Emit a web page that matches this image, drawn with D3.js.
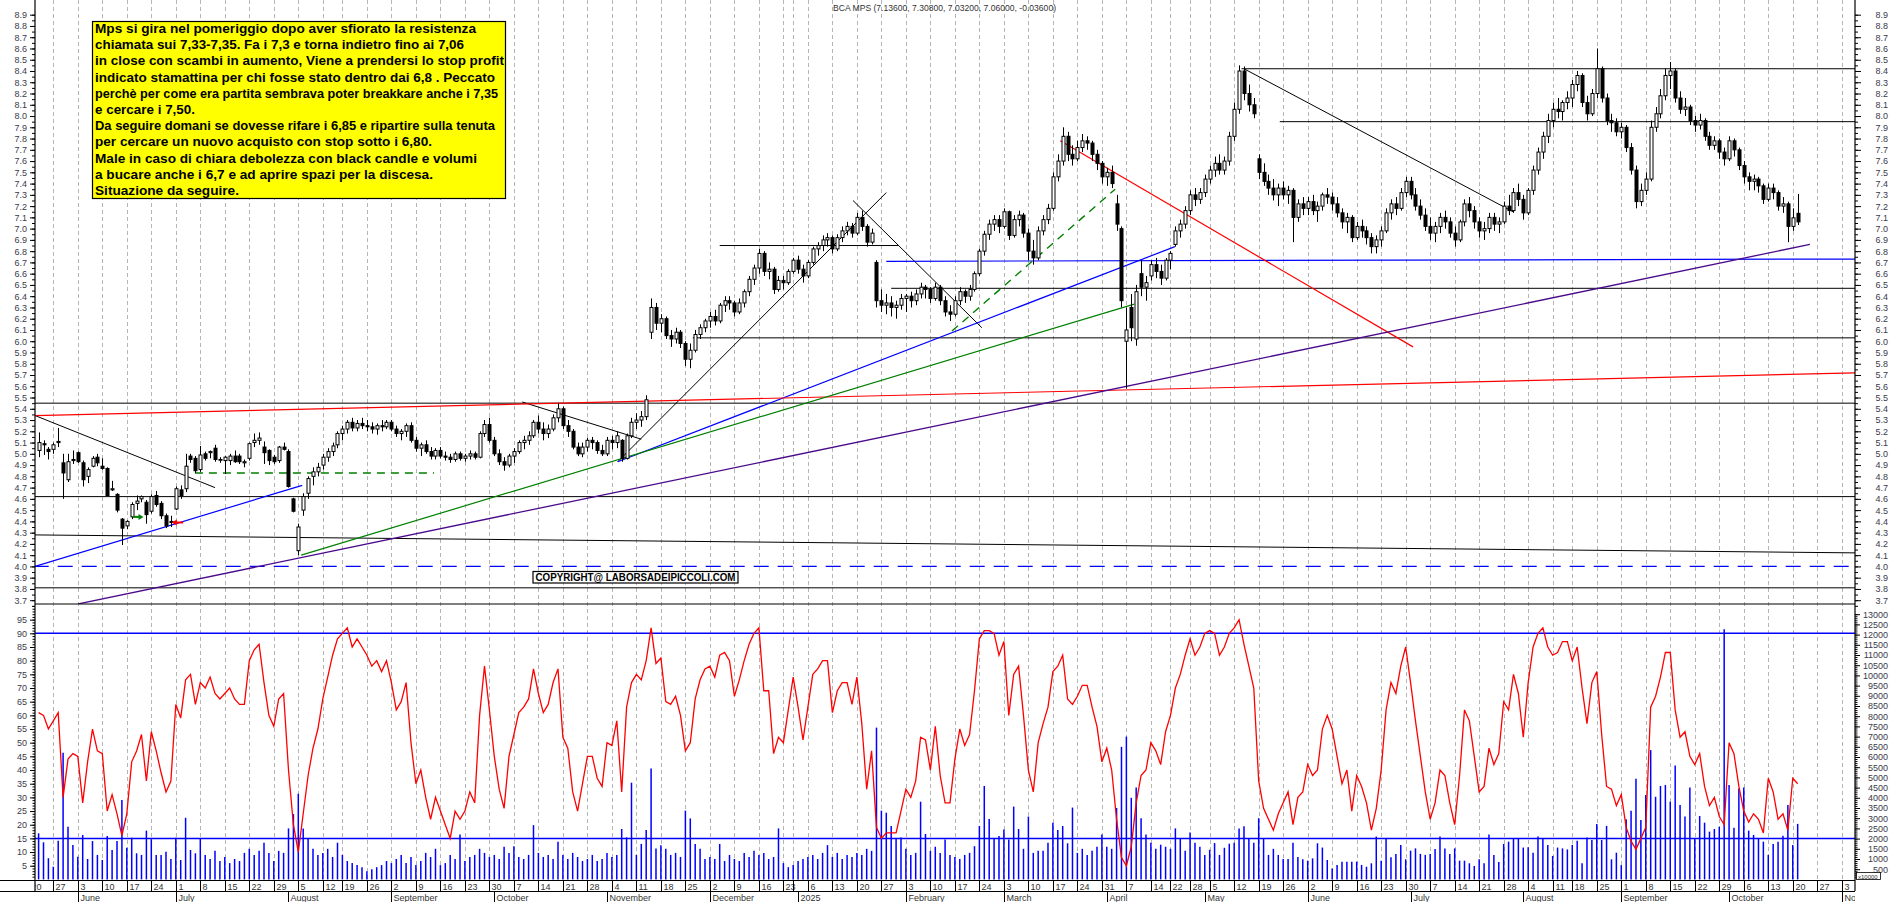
<!DOCTYPE html>
<html><head><meta charset="utf-8">
<script src="https://cdn.jsdelivr.net/npm/d3@7"></script>
<style>
html,body{margin:0;padding:0;background:#fff;}
svg{display:block;}
text{font-family:"Liberation Sans",Arial,sans-serif;}
</style></head><body>
<svg id="c" width="1890" height="902"></svg>
<script>
// ---------- categories ----------
const holidays = ["2024-08-15","2024-12-24","2024-12-25","2024-12-26","2024-12-31","2025-01-01","2025-04-18","2025-04-21","2025-05-01","2025-08-15"];
const firstDataDay = "2024-05-22";
const monthNames = ["2025","February","March","April","May","June","July","August","September","October","November","December"];
const titleName = "BCA MPS";

// ---------- series: [open, high, low, close, volume(x10000), stochastic] ----------
const may24 = [[5.03,5.19,4.97,5.10,2260,61],[5.09,5.12,4.99,5.08,1820,60],[5.04,5.06,4.95,5.02,1040,55],[5.04,5.10,5.00,5.08,620,58],[5.10,5.23,5.06,5.11,1900,61],[4.92,5.00,4.60,4.83,6210,30],[4.77,5.00,4.75,4.93,2580,44],[4.95,5.03,4.91,4.94,1690,46]];
const jun24 = [[5.01,5.02,4.92,4.93,1110,45],[4.92,4.94,4.71,4.77,2180,28],[4.80,4.88,4.74,4.86,1000,43],[4.89,4.98,4.88,4.96,1880,55],[4.97,5.00,4.89,4.92,1200,47],[4.89,4.96,4.86,4.87,950,46],[4.87,4.88,4.63,4.63,2130,25],[4.68,4.76,4.67,4.69,1440,31],[4.64,4.65,4.48,4.50,1880,24],[4.42,4.43,4.19,4.34,3890,16],[4.36,4.41,4.33,4.40,1550,24],[4.44,4.57,4.42,4.55,2040,43],[4.56,4.63,4.50,4.58,1280,47],[4.60,4.63,4.57,4.62,1200,53],[4.57,4.59,4.38,4.46,2390,36],[4.49,4.64,4.47,4.62,1970,54],[4.63,4.67,4.53,4.55,1200,47],[4.56,4.58,4.42,4.45,1200,39],[4.45,4.47,4.34,4.36,1360,32],[4.40,4.45,4.35,4.39,1000,36]];
const jul24 = [[4.51,4.71,4.50,4.69,2040,64],[4.68,4.72,4.60,4.63,950,59],[4.69,5.00,4.66,4.89,3020,73],[4.98,5.00,4.92,4.95,1440,75],[4.96,4.98,4.83,4.85,1280,64],[4.86,5.07,4.84,4.99,2010,72],[5.00,5.02,4.94,4.96,1200,70],[5.01,5.03,4.96,5.02,1000,74],[5.05,5.08,4.93,4.95,1400,68],[4.95,4.97,4.92,4.95,900,66],[4.94,4.98,4.82,4.97,1100,68],[4.94,5.00,4.90,4.98,800,70],[4.98,5.03,4.92,4.93,1000,66],[4.98,5.00,4.91,4.93,900,64],[4.92,4.95,4.88,4.93,1300,64],[4.96,5.10,4.94,5.09,1500,80],[5.10,5.18,5.06,5.12,1200,84],[5.12,5.19,5.08,5.14,1400,86],[5.06,5.11,4.91,5.01,1800,72],[5.03,5.04,4.90,4.94,1300,60],[4.97,4.99,4.91,4.93,900,56],[4.94,5.07,4.92,5.06,1400,66],[5.06,5.10,5.03,5.04,1300,68]];
const aug24 = [[5.02,5.04,4.70,4.71,2500,40],[4.60,4.61,4.48,4.49,3200,20],[4.14,4.38,4.10,4.35,4200,10],[4.50,4.65,4.45,4.62,2500,24],[4.65,4.80,4.60,4.78,2000,38],[4.80,4.88,4.72,4.84,1500,48],[4.84,4.92,4.80,4.88,1200,55],[4.90,5.00,4.86,4.97,1300,66],[4.97,5.05,4.93,5.02,1500,74],[5.02,5.10,4.98,5.07,1100,82],[5.08,5.20,5.05,5.18,1800,88],[5.18,5.25,5.12,5.22,1200,90],[5.22,5.30,5.18,5.28,900,92],[5.28,5.32,5.20,5.23,800,85],[5.23,5.30,5.20,5.27,700,88],[5.27,5.32,5.22,5.25,600,85],[5.25,5.30,5.20,5.24,400,82],[5.24,5.28,5.18,5.22,500,78],[5.22,5.27,5.17,5.25,600,80],[5.25,5.30,5.20,5.24,700,76],[5.24,5.30,5.22,5.28,900,80]];
const sep24 = [[5.28,5.30,5.20,5.22,800,72],[5.22,5.25,5.15,5.18,1000,62],[5.18,5.22,5.12,5.20,1200,65],[5.20,5.27,5.15,5.25,800,72],[5.25,5.28,5.10,5.12,1100,50],[5.12,5.15,5.02,5.05,700,35],[5.05,5.10,4.98,5.08,900,40],[5.08,5.12,5.00,5.02,1300,30],[5.02,5.06,4.95,4.98,1100,22],[4.98,5.05,4.95,5.03,1500,30],[5.03,5.06,4.96,4.98,700,25],[4.98,5.02,4.94,4.97,800,20],[4.97,5.00,4.92,4.95,1200,15],[4.95,5.02,4.93,5.00,1000,25],[5.00,5.02,4.94,4.96,2200,22],[4.96,5.00,4.93,4.98,900,25],[4.98,5.03,4.95,5.00,1100,32],[5.00,5.02,4.95,4.97,1200,28],[4.97,5.20,4.96,5.18,1500,60],[5.18,5.30,5.15,5.26,1300,78],[5.26,5.32,5.10,5.12,1100,62]];
const oct24 = [[5.12,5.15,4.98,5.00,1200,45],[5.00,5.04,4.90,4.93,1000,33],[4.93,4.97,4.85,4.90,1600,26],[4.90,5.00,4.88,4.98,1300,45],[4.98,5.05,4.92,5.02,1630,53],[5.02,5.12,5.00,5.10,1100,61],[5.10,5.16,5.04,5.12,1000,63],[5.12,5.20,5.08,5.16,1200,66],[5.16,5.30,5.14,5.28,2660,77],[5.28,5.34,5.18,5.22,1300,68],[5.22,5.28,5.12,5.18,1100,61],[5.18,5.26,5.14,5.22,1200,64],[5.22,5.35,5.20,5.32,1000,72],[5.32,5.45,5.28,5.40,1850,77],[5.40,5.42,5.22,5.25,1200,52],[5.25,5.30,5.15,5.20,1000,48],[5.20,5.22,5.04,5.06,1300,32],[5.06,5.10,4.98,5.00,1100,25],[5.00,5.10,4.97,5.06,900,35],[5.06,5.14,5.02,5.12,1000,45],[5.12,5.15,5.04,5.10,1200,45],[5.10,5.12,5.00,5.03,900,37],[5.03,5.08,4.98,5.00,1000,34]];
const nov24 = [[5.00,5.15,4.98,5.12,1300,50],[5.12,5.16,5.04,5.10,1100,49],[5.10,5.20,5.05,5.16,1200,58],[5.12,5.13,4.93,4.96,2470,32],[4.96,5.18,4.95,5.16,2060,63],[5.16,5.32,5.14,5.28,4740,72],[5.28,5.36,5.22,5.30,1200,75],[5.30,5.38,5.24,5.33,1740,73],[5.33,5.52,5.30,5.48,2420,80],[6.08,6.38,6.02,6.30,5440,92],[6.30,6.34,6.10,6.16,1520,79],[6.16,6.24,6.08,6.20,1680,81],[6.20,6.22,6.02,6.05,1500,65],[6.05,6.10,5.95,6.02,1200,64],[6.02,6.12,5.98,6.08,1300,67],[6.08,6.10,5.94,5.98,1100,60],[5.98,6.00,5.78,5.84,3370,47],[5.84,5.98,5.76,5.92,2990,50],[5.92,6.10,5.90,6.06,1740,66],[6.06,6.15,6.02,6.12,1500,73],[6.12,6.20,6.08,6.18,1000,77]];
const dec24 = [[6.18,6.26,6.12,6.22,1100,78],[6.22,6.28,6.14,6.18,1000,74],[6.18,6.34,6.16,6.32,1740,82],[6.32,6.40,6.26,6.36,900,83],[6.36,6.40,6.28,6.34,1200,80],[6.34,6.36,6.22,6.26,1000,67],[6.26,6.38,6.24,6.34,900,73],[6.34,6.46,6.30,6.44,1300,80],[6.44,6.58,6.40,6.55,1100,86],[6.55,6.68,6.50,6.65,1400,90],[6.65,6.82,6.60,6.78,1200,92],[6.78,6.80,6.58,6.62,1300,69],[6.62,6.70,6.55,6.64,1000,69],[6.64,6.66,6.42,6.46,1100,46],[6.46,6.58,6.44,6.54,2500,52],[6.54,6.58,6.46,6.52,800,50],[6.52,6.64,6.50,6.62,600,62],[6.62,6.74,6.60,6.72,700,74]];
const jan25 = [[6.72,6.76,6.60,6.64,900,63],[6.64,6.68,6.52,6.58,1000,51],[6.58,6.72,6.56,6.70,1100,63],[6.70,6.84,6.68,6.82,1200,75],[6.82,6.88,6.76,6.85,1000,77],[6.85,6.94,6.80,6.90,1300,80],[6.90,6.96,6.84,6.92,1680,80],[6.92,6.94,6.78,6.82,1100,61],[6.82,6.95,6.80,6.92,1300,69],[6.92,7.02,6.88,6.98,1000,72],[6.98,7.06,6.94,7.02,1200,72],[7.02,7.05,6.92,6.96,1100,64],[6.96,7.14,6.94,7.10,1300,74],[7.10,7.16,6.98,7.02,1200,57],[7.02,7.04,6.84,6.88,1500,33],[6.88,7.00,6.86,6.96,1400,47],[6.70,6.72,6.30,6.36,7440,19],[6.36,6.46,6.26,6.32,3370,15],[6.32,6.42,6.24,6.34,3270,17],[6.34,6.40,6.22,6.30,2620,17],[6.30,6.36,6.20,6.32,1980,17],[6.32,6.42,6.28,6.38,2060,25]];
const feb25 = [[6.38,6.42,6.26,6.40,1500,33],[6.40,6.44,6.30,6.36,1200,30],[6.36,6.46,6.32,6.42,1300,36],[6.42,6.52,6.38,6.48,3810,52],[6.48,6.50,6.38,6.46,2230,51],[6.46,6.48,6.34,6.38,1400,40],[6.38,6.52,6.36,6.48,1600,56],[6.48,6.50,6.32,6.36,1300,38],[6.36,6.40,6.22,6.26,1960,28],[6.26,6.32,6.18,6.24,1200,28],[6.24,6.40,6.22,6.36,1100,44],[6.36,6.48,6.32,6.44,1000,55],[6.44,6.46,6.34,6.40,1200,49],[6.40,6.50,6.36,6.46,1300,53],[6.46,6.62,6.44,6.60,1630,69],[6.60,6.82,6.58,6.80,2620,88],[6.80,6.98,6.76,6.95,4580,91],[6.95,7.08,6.90,7.04,2960,91],[7.04,7.12,6.98,7.08,1980,90],[7.08,7.12,6.96,7.02,2130,82]];
const mar25 = [[7.02,7.18,7.00,7.15,2450,87],[7.15,7.16,6.90,6.94,1960,60],[6.94,7.12,6.92,7.08,3570,75],[7.08,7.16,7.02,7.12,2470,78],[7.12,7.14,6.92,6.96,1500,60],[6.96,7.00,6.72,6.80,3080,40],[6.80,6.90,6.68,6.74,1300,32],[6.74,7.02,6.72,6.98,1400,50],[6.98,7.12,6.94,7.08,1400,57],[7.08,7.22,7.04,7.18,1800,63],[7.18,7.50,7.16,7.46,2780,76],[7.46,7.66,7.42,7.60,2420,78],[7.60,7.90,7.56,7.82,2620,82],[7.82,7.86,7.60,7.66,1770,66],[7.66,7.74,7.56,7.62,3520,64],[7.62,7.78,7.60,7.72,1300,67],[7.72,7.84,7.68,7.78,1500,71],[7.78,7.82,7.70,7.76,1200,71],[7.76,7.78,7.60,7.66,1400,63],[7.66,7.70,7.52,7.58,1600,56],[7.58,7.60,7.40,7.46,2200,43]];
const apr25 = [[7.46,7.54,7.38,7.50,1600,48],[7.50,7.56,7.36,7.40,1500,40],[7.22,7.30,6.98,7.04,3500,22],[7.00,7.02,6.30,6.36,6500,8],[6.00,6.30,5.58,6.10,7000,5],[6.30,6.42,6.00,6.12,4000,12],[6.02,6.50,5.96,6.44,4500,28],[6.60,6.72,6.40,6.48,3000,38],[6.48,6.58,6.36,6.52,2200,40],[6.58,6.72,6.54,6.68,1800,50],[6.68,6.74,6.56,6.62,1500,47],[6.62,6.68,6.50,6.56,1700,42],[6.56,6.74,6.54,6.72,1600,54],[6.72,6.80,6.64,6.78,1500,60],[6.86,7.02,6.84,6.98,2500,70],[6.98,7.08,6.92,7.04,2000,75],[7.04,7.20,7.00,7.16,1400,82],[7.16,7.34,7.12,7.30,2300,88],[7.30,7.36,7.20,7.26,1800,82],[7.26,7.36,7.22,7.32,1600,85]];
const may25 = [[7.32,7.48,7.28,7.44,1200,90],[7.44,7.56,7.40,7.52,1450,91],[7.52,7.64,7.46,7.58,1780,90],[7.58,7.66,7.48,7.52,1200,82],[7.52,7.64,7.48,7.60,1550,85],[7.60,7.86,7.56,7.82,1750,90],[7.82,8.12,7.78,8.06,1800,92],[8.06,8.45,8.02,8.40,2500,95],[8.40,8.44,8.14,8.20,2600,86],[8.20,8.28,8.04,8.10,2000,78],[8.10,8.16,7.98,8.02,1800,70],[7.62,7.66,7.44,7.50,3000,36],[7.50,7.58,7.38,7.42,2000,26],[7.42,7.48,7.30,7.36,1200,22],[7.36,7.44,7.25,7.30,1500,18],[7.30,7.40,7.20,7.36,1200,24],[7.36,7.42,7.26,7.30,1000,28],[7.30,7.38,7.22,7.34,1000,32],[7.34,7.36,6.88,7.10,1800,20],[7.10,7.26,7.06,7.22,1100,30],[7.22,7.28,7.12,7.18,985,32]];
const jun25 = [[7.18,7.28,7.12,7.24,918,42],[7.24,7.30,7.12,7.16,1030,38],[7.16,7.24,7.06,7.20,1770,40],[7.20,7.32,7.16,7.30,1560,55],[7.30,7.36,7.22,7.28,950,60],[7.28,7.32,7.16,7.22,540,55],[7.22,7.28,7.10,7.14,710,45],[7.14,7.18,7.00,7.06,870,35],[7.06,7.14,6.96,7.10,870,40],[7.10,7.12,6.88,6.92,870,25],[6.92,7.06,6.90,7.02,870,38],[7.02,7.08,6.92,6.98,710,34],[6.98,7.02,6.86,6.92,620,28],[6.92,6.96,6.78,6.84,790,18],[6.84,6.94,6.78,6.90,2100,26],[6.90,7.02,6.84,6.98,918,40],[6.98,7.18,6.96,7.14,2000,62],[7.14,7.26,7.08,7.22,1080,72],[7.22,7.28,7.12,7.18,1250,68],[7.18,7.36,7.16,7.32,1690,78],[7.32,7.46,7.28,7.42,985,85]];
const jul25 = [[7.42,7.46,7.26,7.30,1410,72],[7.30,7.36,7.16,7.20,1520,58],[7.20,7.26,7.08,7.12,1250,45],[7.12,7.18,6.98,7.02,1200,32],[7.02,7.10,6.90,6.96,1250,22],[6.96,7.06,6.88,7.02,1490,28],[7.02,7.14,6.96,7.10,2100,40],[7.10,7.16,7.00,7.06,1520,38],[7.06,7.10,6.92,6.96,1250,28],[6.96,7.02,6.84,6.90,1520,20],[6.90,7.08,6.88,7.06,918,38],[7.06,7.26,7.02,7.22,918,62],[7.22,7.28,7.10,7.16,790,58],[7.16,7.20,7.00,7.06,660,45],[7.06,7.10,6.92,6.98,985,32],[6.98,7.06,6.90,7.00,790,34],[7.00,7.14,6.96,7.10,2200,48],[7.10,7.14,6.98,7.04,1200,42],[7.04,7.10,6.96,7.06,850,46],[7.06,7.24,7.04,7.20,1740,65],[7.20,7.30,7.12,7.16,1850,62],[7.16,7.36,7.14,7.32,2000,75],[7.32,7.40,7.20,7.26,2000,68]];
const aug25 = [[7.26,7.30,7.08,7.14,1560,52],[7.14,7.36,7.12,7.34,1570,72],[7.34,7.56,7.30,7.52,1310,85],[7.52,7.72,7.48,7.68,2100,90],[7.68,7.86,7.62,7.82,2000,92],[7.82,8.02,7.76,7.96,1690,85],[7.96,8.12,7.90,8.06,1150,82],[8.06,8.16,7.98,8.04,1560,83],[8.04,8.14,7.96,8.12,1520,87],[8.12,8.22,8.06,8.16,1470,87],[8.16,8.32,8.08,8.28,1690,80],[8.28,8.40,8.22,8.36,1900,85],[8.36,8.38,8.08,8.12,790,70],[8.12,8.18,7.96,8.02,2060,57],[8.02,8.24,8.00,8.20,1930,72],[8.20,8.60,8.16,8.42,2720,76],[8.42,8.44,8.12,8.16,1930,53],[8.16,8.20,7.92,7.96,2620,34],[7.96,8.02,7.86,7.94,985,33],[7.94,7.98,7.82,7.86,1310,27]];
const sep25 = [[7.86,7.94,7.80,7.90,700,31],[7.90,7.92,7.68,7.72,2950,19],[7.72,7.76,7.48,7.52,3360,14],[7.52,7.56,7.18,7.24,4930,11],[7.24,7.40,7.20,7.34,2910,15],[7.34,7.50,7.30,7.44,4140,19],[7.44,7.96,7.42,7.90,6340,63],[7.90,8.08,7.86,8.02,4050,67],[8.02,8.24,7.98,8.18,4580,74],[8.18,8.42,8.14,8.36,4630,83],[8.36,8.48,8.24,8.40,3810,83],[8.40,8.42,8.12,8.16,5580,62],[8.16,8.22,8.02,8.06,3650,52],[8.06,8.16,8.00,8.08,3080,54],[8.08,8.10,7.92,7.96,4500,45],[7.96,8.00,7.86,7.92,2010,42],[7.92,8.02,7.88,7.96,3110,46],[7.96,7.98,7.78,7.82,2780,34],[7.82,7.86,7.70,7.74,2340,27],[7.74,7.82,7.70,7.78,2470,30],[7.78,7.80,7.62,7.68,2580,23],[7.68,7.72,7.56,7.62,12260,20]];
const oct25 = [[7.62,7.82,7.60,7.78,4630,50],[7.78,7.80,7.64,7.70,2530,46],[7.70,7.72,7.52,7.56,4460,34],[7.56,7.60,7.40,7.46,4500,25],[7.46,7.50,7.34,7.42,2390,21],[7.42,7.48,7.34,7.44,2180,24],[7.44,7.46,7.32,7.38,2010,22],[7.38,7.40,7.22,7.26,1850,17],[7.26,7.40,7.24,7.36,1200,37],[7.36,7.40,7.26,7.32,1740,32],[7.32,7.34,7.16,7.20,1850,22],[7.20,7.28,7.14,7.22,2140,24],[7.22,7.24,6.88,7.02,3650,18],[7.02,7.18,6.98,7.096,1690,37],[7.136,7.308,7.032,7.06,2720,35]];

// ---------- drawn annotation lines: [dayOffsetFrom27May2024, price] ----------
const blackLines = [
 [[242.5,8.42],[368.5,8.42]], [[250.3,7.95],[368.5,7.95]], [[171,6.47],[368.5,6.47]],
 [[130.5,6.03],[368.5,6.03]], [[136,6.85],[172.4,6.85]], [[-4,5.45],[368.5,5.45]],
 [[-4,4.62],[368.5,4.62]], [[-4,4.28],[368.5,4.12]], [[-4,3.81],[368.5,3.81]],
 [[-3.73,5.34],[33,4.70]], [[115.2,4.93],[170,7.32]], [[163.2,7.25],[189.5,6.12]],
 [[95.7,5.46],[120,5.13]], [[243,8.42],[297.9,7.15]]
];
const blueLines = [[[-3.73,4.0],[50.8,4.72]], [[115.2,4.93],[228.9,6.84]], [[170,6.71],[368.5,6.73]]];
const blueDashLines = [[[-4,4.0],[368.5,4.0]]];
const redLines = [[[-3.73,5.34],[368.4,5.72]], [[205.5,7.78],[277.5,5.95]]];
const greenLines = [[[50.6,4.10],[220.6,6.33]]];
const greenDashLines = [[[28.9,4.83],[77.7,4.83]], [[183.4,6.09],[216.7,7.35]]];
const purpleLines = [[[5.1,3.667],[358.5,6.86]]];
const greenArrow = [[16.3,4.44],[17.8,4.44]];
const redArrow = [[26.5,4.39],[24.8,4.39]];
const stochLevels = [90, 15];

const noteLines = [
 "Mps si gira nel pomeriggio dopo aver sfiorato la resistenza",
 "chiamata sui 7,33-7,35. Fa i 7,3 e torna indietro fino ai 7,06",
 "in close con scambi in aumento, Viene a prendersi lo stop profit",
 "indicato stamattina per chi fosse stato dentro dai 6,8 . Peccato",
 "perchè per come era partita sembrava poter breakkare anche i 7,35",
 "e cercare i 7,50.",
 "Da seguire domani se dovesse rifare i 6,85 e ripartire sulla tenuta",
 "per cercare un nuovo acquisto con stop sotto i 6,80.",
 "Male in caso di chiara debolezza con black candle e volumi",
 "a bucare anche i 6,7 e ad aprire spazi per la discesa.",
 "Situazione da seguire."
];
const noteWidths = [381,369,409,400,403,100,400,337,382,338,144];
const copyrightText = "COPYRIGHT@ LABORSADEIPICCOLI.COM";

// ---------- calendar ----------
const iso = d => d.toISOString().slice(0,10);
const days = [];
for (let t = Date.UTC(2024,4,20); t <= Date.UTC(2025,10,14); t += 86400000) {
  const d = new Date(t), wd = d.getUTCDay();
  if (wd === 0 || wd === 6 || holidays.includes(iso(d))) continue;
  days.push(d);
}
const i0 = days.findIndex(d => iso(d) === "2024-05-27");

const monthData = [["2024-05",may24],["2024-06",jun24],["2024-07",jul24],["2024-08",aug24],["2024-09",sep24],["2024-10",oct24],["2024-11",nov24],["2024-12",dec24],["2025-01",jan25],["2025-02",feb25],["2025-03",mar25],["2025-04",apr25],["2025-05",may25],["2025-06",jun25],["2025-07",jul25],["2025-08",aug25],["2025-09",sep25],["2025-10",oct25]];
const bars = [];
monthData.forEach(([key, arr]) => {
  const md = [];
  days.forEach((d, i) => { const s = iso(d); if (s.slice(0,7) === key && s >= firstDataDay) md.push(i); });
  arr.forEach((r, j) => { if (md[j] !== undefined) bars.push({i: md[j] - i0, o:r[0], h:r[1], l:r[2], c:r[3], v:r[4], k:r[5]}); });
});

// ---------- scales ----------
const L = 35, R = 1855;
const x = d3.scaleLinear().domain([-3.735, 367.7]).range([L, R]);
const yP = d3.scaleLinear().domain([3.7, 8.9]).range([600.2, 14.7]);
const yK = d3.scaleLinear().domain([0, 100]).range([879.4, 606]);
const yV = d3.scaleLinear().domain([0, 13000]).range([879.4, 614.2]);
const TOP = 0, MID = 604, BOT = 880;

const svg = d3.select("#c");
const defs = svg.append("defs");
defs.append("clipPath").attr("id","cu").append("rect").attr("x",L).attr("y",TOP).attr("width",R-L).attr("height",MID-TOP);
defs.append("clipPath").attr("id","cl").append("rect").attr("x",L).attr("y",MID).attr("width",R-L).attr("height",BOT-MID);
defs.append("clipPath").attr("id","cx").append("rect").attr("x",L).attr("y",BOT).attr("width",R-L).attr("height",30);

// week starts & month starts
const weekStarts = [], monthStarts = [];
days.forEach((d, i) => {
  const p = days[i-1];
  if (!p || d.getUTCDay() < p.getUTCDay() || (d - p) > 4*86400000) weekStarts.push(i);
  if (!p || d.getUTCMonth() !== p.getUTCMonth()) monthStarts.push(i);
});

// grid
const grid = svg.append("g");
weekStarts.forEach(i => {
  const xx = Math.round(x(i - i0)) + 0.5;
  if (xx <= L || xx >= R) return;
  grid.append("line").attr("x1",xx).attr("x2",xx).attr("y1",TOP).attr("y2",BOT)
    .attr("stroke","#b4b4b4").attr("stroke-dasharray","4,3");
});

// ---------- upper panel ----------
const up = svg.append("g").attr("clip-path","url(#cu)");
const seg = (g, list, color, dash, w) => list.forEach(([a,b]) => {
  g.append("line").attr("x1",x(a[0])).attr("y1",yP(a[1])).attr("x2",x(b[0])).attr("y2",yP(b[1]))
   .attr("stroke",color).attr("stroke-width",w||1).attr("stroke-dasharray",dash||null);
});
seg(up, blackLines, "#000");
seg(up, blueLines, "#0000ff", null, 1.2);
seg(up, blueDashLines, "#0000ff", "15,9", 1.4);
seg(up, redLines, "#ff0000", null, 1.2);
seg(up, greenLines, "#008000", null, 1.2);
seg(up, greenDashLines, "#008000", "8,6", 1.4);
seg(up, purpleLines, "#4b0a8c", null, 1.3);

// candles
const cg = up.append("g");
bars.forEach(b => {
  const cx = Math.round(x(b.i)) + 0.5;
  cg.append("line").attr("x1",cx).attr("x2",cx).attr("y1",yP(b.h)).attr("y2",yP(b.l)).attr("stroke","#000").attr("stroke-width",1);
  const top = yP(Math.max(b.o,b.c)), bot = yP(Math.min(b.o,b.c));
  cg.append("rect").attr("x",cx-1.5).attr("y",top).attr("width",3).attr("height",Math.max(bot-top,0.8))
    .attr("fill", b.c >= b.o ? "#fff" : "#000").attr("stroke","#000").attr("stroke-width",1);
});

// arrows
const arrow = (pts, color) => {
  const [a,b] = pts, x1 = x(a[0]), x2 = x(b[0]), yy = yP(a[1]), dir = Math.sign(x2-x1);
  up.append("line").attr("x1",x1).attr("x2",x2).attr("y1",yy).attr("y2",yy).attr("stroke",color).attr("stroke-width",2);
  up.append("path").attr("d",`M${x2+dir*3},${yy} L${x2-dir*2},${yy-3} L${x2-dir*2},${yy+3} Z`).attr("fill",color);
};
arrow(greenArrow, "#008000");
arrow(redArrow, "#ff0000");

// ---------- lower panel ----------
const lo = svg.append("g").attr("clip-path","url(#cl)");
stochLevels.forEach(v => lo.append("line").attr("x1",L).attr("x2",R).attr("y1",yK(v)).attr("y2",yK(v)).attr("stroke","#0000ff").attr("stroke-width",1.5));
bars.forEach(b => {
  const cx = x(b.i);
  lo.append("line").attr("x1",cx).attr("x2",cx).attr("y1",yV(0)).attr("y2",yV(b.v)).attr("stroke","#0000ff").attr("stroke-width",1.5);
});
lo.append("path").datum(bars).attr("fill","none").attr("stroke","#ff0000").attr("stroke-width",1.3)
  .attr("d", d3.line().x(d => x(d.i)).y(d => yK(d.k)));

// ---------- frame ----------
const fr = svg.append("g").attr("stroke","#000").attr("stroke-width",1.2);
fr.append("line").attr("x1",L).attr("x2",L).attr("y1",0).attr("y2",891);
fr.append("line").attr("x1",R).attr("x2",R).attr("y1",0).attr("y2",891);
fr.append("line").attr("x1",L).attr("x2",R).attr("y1",MID).attr("y2",MID);
fr.append("line").attr("x1",0).attr("x2",R).attr("y1",BOT+0.5).attr("y2",BOT+0.5);
fr.append("line").attr("x1",0).attr("x2",R).attr("y1",891.5).attr("y2",891.5);

// ---------- axes ----------
const axisFont = g => g.selectAll("text").attr("font-size",9).attr("fill","#3a3a4a").attr("font-family","'Liberation Sans',Arial,sans-serif");
const clean = g => { g.select(".domain").remove(); g.selectAll("line").attr("stroke","#000"); };
const pTicks = d3.range(37, 90).map(v => v/10);
const pMinor = d3.range(73, 179).map(v => v/20);
svg.append("g").attr("transform",`translate(${L},0)`).call(d3.axisLeft(yP).tickValues(pMinor).tickSize(3).tickFormat("")).call(clean);
svg.append("g").attr("transform",`translate(${L},0)`).call(d3.axisLeft(yP).tickValues(pTicks).tickSize(5).tickPadding(3).tickFormat(d3.format(".1f"))).call(clean).call(axisFont);
svg.append("g").attr("transform",`translate(${R},0)`).call(d3.axisRight(yP).tickValues(pMinor).tickSize(3).tickFormat("")).call(clean);
svg.append("g").attr("transform",`translate(${R},0)`).call(d3.axisRight(yP).tickValues(pTicks).tickSize(6).tickFormat(d3.format(".1f"))).call(clean).call(axisFont)
  .call(g => g.selectAll("text").attr("text-anchor","end").attr("x",33));
svg.append("g").attr("transform",`translate(${L},0)`).call(d3.axisLeft(yK).tickValues(d3.range(1,101)).tickSize(2.5).tickFormat("")).call(clean);
svg.append("g").attr("transform",`translate(${L},0)`).call(d3.axisLeft(yK).tickValues(d3.range(5,100,5)).tickSize(5).tickPadding(3)).call(clean).call(axisFont);
svg.append("g").attr("transform",`translate(${R},0)`).call(d3.axisRight(yV).tickValues(d3.range(100,13100,100)).tickSize(2.5).tickFormat("")).call(clean);
svg.append("g").attr("transform",`translate(${R},0)`).call(d3.axisRight(yV).tickValues(d3.range(500,13500,500)).tickSize(5).tickFormat(d3.format("d"))).call(clean).call(axisFont)
  .call(g => g.selectAll("text").attr("text-anchor","end").attr("x",33));
const ub = svg.append("g");
ub.append("rect").attr("x",1856.5).attr("y",872.5).attr("width",24).attr("height",7).attr("fill","#fff").attr("stroke","#000").attr("stroke-width",0.8);
ub.append("text").attr("x",1858).attr("y",878.6).attr("font-size",6).attr("fill","#333").text("x10000");

// ---------- date axis ----------
const xa = svg.append("g").attr("clip-path","url(#cx)");
weekStarts.forEach((i, n) => {
  const xx = Math.round(x(i - i0)) + 0.5;
  xa.append("line").attr("x1",xx).attr("x2",xx).attr("y1",BOT).attr("y2",891).attr("stroke","#000");
  const nxt = weekStarts[n+1];
  const yearTurn = nxt !== undefined && days[i].getUTCMonth() === 11 && days.slice(i, nxt).some(d => d.getUTCMonth() === 0);
  if (!yearTurn) xa.append("text").attr("x",xx+2).attr("y",889.5).attr("font-size",9).attr("fill","#333").text(days[i].getUTCDate());
});
monthStarts.forEach(i => {
  const xx = Math.round(x(i - i0)) + 0.5, m = days[i].getUTCMonth();
  if (xx < L) return;
  const name = m === 0 ? String(days[i].getUTCFullYear()) : monthNames[m];
  xa.append("line").attr("x1",xx).attr("x2",xx).attr("y1",891).attr("y2",902).attr("stroke","#000");
  xa.append("text").attr("x",xx+2).attr("y",900.5).attr("font-size",9).attr("fill","#333").text(name);
});

// ---------- title ----------
const last = bars[bars.length-1], prev = bars[bars.length-2], f5 = v => v.toFixed(5);
svg.append("text").attr("x",833).attr("y",11).attr("font-size",9).attr("fill","#333").attr("textLength",223).attr("lengthAdjust","spacingAndGlyphs")
  .text(`${titleName} (${f5(last.o)}, ${f5(last.h)}, ${f5(last.l)}, ${f5(last.c)}, ${f5(last.c - prev.c)})`);

// ---------- note box ----------
const nb = svg.append("g");
nb.append("rect").attr("x",92.5).attr("y",21.5).attr("width",413).attr("height",177).attr("fill","#ffff00").attr("stroke","#000").attr("stroke-width",1.2);
noteLines.forEach((t, j) => {
  nb.append("text").attr("x",95).attr("y",32.8 + j*16.24).attr("font-size",13).attr("font-weight","bold").attr("fill","#000")
    .attr("textLength",noteWidths[j]).attr("lengthAdjust","spacingAndGlyphs").text(t);
});

// ---------- copyright ----------
const cp = svg.append("g");
cp.append("rect").attr("x",533).attr("y",571.5).attr("width",205).attr("height",11.5).attr("fill","#fff").attr("stroke","#000").attr("stroke-width",1.2);
cp.append("text").attr("x",535.5).attr("y",580.8).attr("font-size",10).attr("font-weight","bold").attr("fill","#000")
  .attr("textLength",200).attr("lengthAdjust","spacingAndGlyphs").text(copyrightText);
</script></body></html>
